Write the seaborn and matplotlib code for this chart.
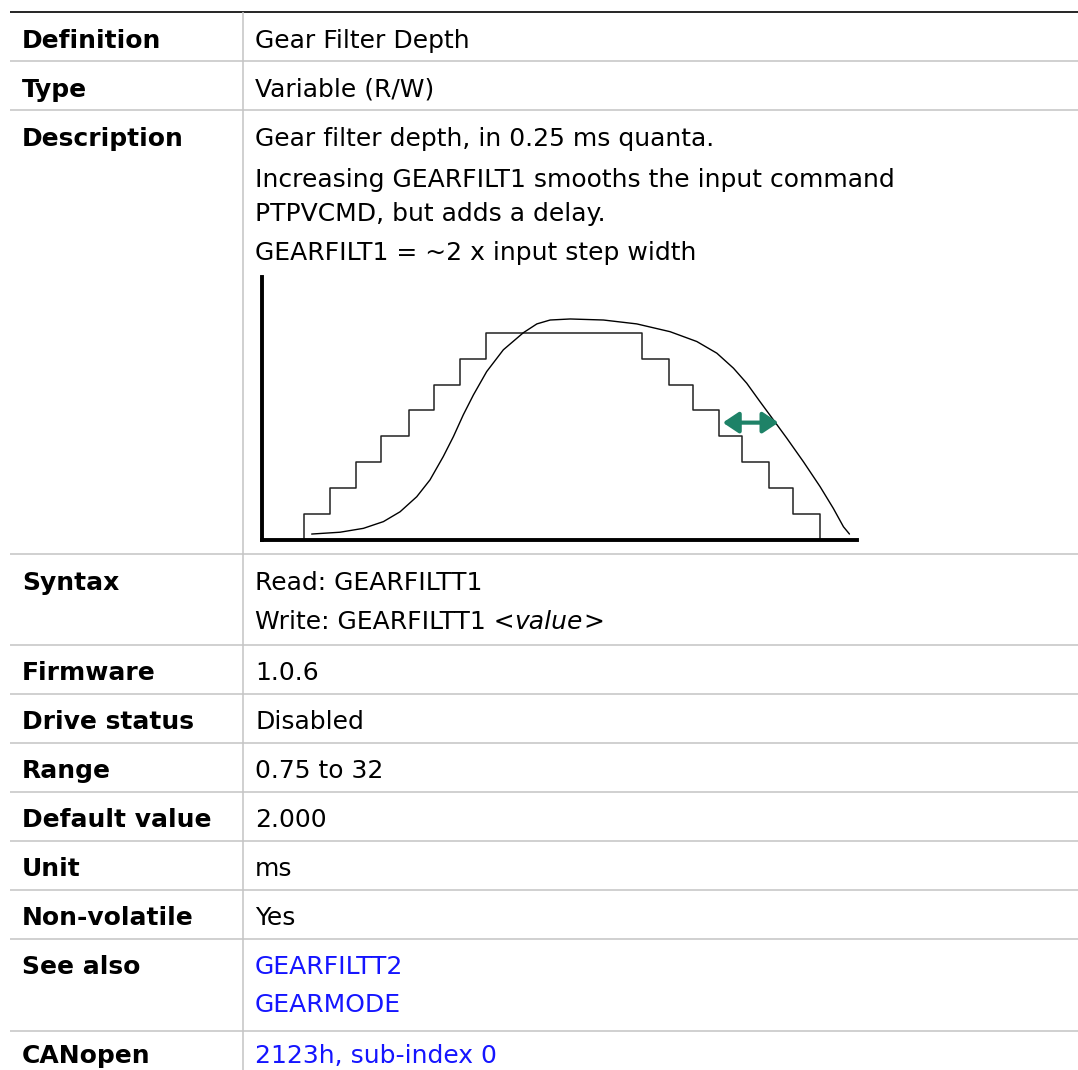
import matplotlib
matplotlib.use("Agg")
import matplotlib.pyplot as plt
import seaborn as sns

# ---------------- data ----------------
row_labels = ["Definition", "Type", "Description", "Syntax", "Firmware",
              "Drive status", "Range", "Default value", "Unit",
              "Non-volatile", "See also", "CANopen"]
definition_text = ["Gear Filter Depth"]
type_text = ["Variable (R/W)"]
description_text = ["Gear filter depth, in 0.25 ms quanta.",
                    "Increasing GEARFILT1 smooths the input command",
                    "PTPVCMD, but adds a delay.",
                    "GEARFILT1 = ~2 x input step width"]
syntax_read = "Read: GEARFILTT1"
syntax_write = ["Write: GEARFILTT1 <", "value", ">"]
firmware_text = ["1.0.6"]
drive_status_text = ["Disabled"]
range_text = ["0.75 to 32"]
default_text = ["2.000"]
unit_text = ["ms"]
nonvolatile_text = ["Yes"]
see_also_links = ["GEARFILTT2", "GEARMODE"]
canopen_links = ["2123h, sub-index 0"]

# chart: stepped input command (time in step units, level in steps)
step_t = [1.62, 1.62, 2.62, 3.60, 4.58, 5.65, 6.63, 7.62, 8.60,
          14.63, 15.65, 16.57, 17.58, 18.47, 19.51, 20.41, 21.46]
step_level = [0, 1, 2, 3, 4, 5, 6, 7, 8,
              7, 6, 5, 4, 3, 2, 1, 0]
# filtered (smoothed) output
curve_t = [1.91, 3.00, 3.90, 4.67, 5.31, 5.95, 6.46, 6.97, 7.36, 7.74, 8.13,
           8.64, 9.28, 10.05, 10.57, 11.08, 11.85, 13.13, 14.41, 15.69,
           16.72, 17.49, 18.13, 18.64, 19.15, 19.67, 20.18, 20.82, 21.46,
           21.97, 22.36, 22.59]
curve_level = [0.23, 0.30, 0.45, 0.71, 1.09, 1.67, 2.32, 3.22, 3.99, 4.83, 5.60,
               6.50, 7.34, 8.00, 8.34, 8.49, 8.53, 8.49, 8.34, 8.04,
               7.66, 7.21, 6.63, 6.05, 5.34, 4.63, 3.93, 3.02, 2.06,
               1.22, 0.51, 0.23]
# delay marker
arrow_t = [17.72, 19.86]
arrow_level = 4.53

# ---------------- style ----------------
sns.set_theme(style="white")
plt.rcParams["font.family"] = ["DejaVu Sans"]

W, H = 1078, 1070
fig = plt.figure(figsize=(W / 100, H / 100), dpi=100)
fig.patch.set_facecolor("white")

# table layer in pixel coordinates
tab = fig.add_axes([0, 0, 1, 1])
tab.set_xlim(0, W)
tab.set_ylim(H, 0)
tab.axis("off")

grid_color = "#c4c4c4"
row_lines = [61, 110, 554, 645, 694, 743, 792, 841, 890, 939, 1031]
tab.plot([10, W], [12, 12], color="black", lw=1.2, solid_capstyle="butt")
for yl in row_lines:
    tab.plot([10, W], [yl, yl], color=grid_color, lw=1.1, solid_capstyle="butt")
tab.plot([242.5, 242.5], [12, H], color=grid_color, lw=1.1, solid_capstyle="butt")

FS = 18
label_x, value_x = 22, 255
label_base = [48, 97, 146, 590, 680, 729, 778, 827, 876, 925, 974, 1063]
for lab, yb in zip(row_labels, label_base):
    tab.text(label_x, yb, lab, fontsize=FS, fontweight="bold", color="black",
             va="baseline", ha="left")

def put(lines, baselines, color="black"):
    for s, yb in zip(lines, baselines):
        tab.text(value_x, yb, s, fontsize=FS, color=color, va="baseline", ha="left")

put(definition_text, [48])
put(type_text, [97])
put(description_text, [146, 187, 221, 260])
put([syntax_read], [590])
t1 = tab.text(value_x, 629, syntax_write[0], fontsize=FS, color="black",
              va="baseline", ha="left")
t2 = tab.annotate(syntax_write[1], xy=(1, 0), xycoords=t1, fontsize=FS,
                  fontstyle="italic", color="black", va="bottom", ha="left")
t3 = tab.annotate(syntax_write[2], xy=(1, 0), xycoords=t2, fontsize=FS,
                  color="black", va="bottom", ha="left")
put(firmware_text, [680])
put(drive_status_text, [729])
put(range_text, [778])
put(default_text, [827])
put(unit_text, [876])
put(nonvolatile_text, [925])
put(see_also_links, [974, 1012], color="#1515ff")
put(canopen_links, [1063], color="#1515ff")

# chart layer
ax = fig.add_axes([262 / W, (H - 540) / H, 595 / W, 263 / H])
ax.set_facecolor("none")
ax.set_xlim(0, 22.88)
ax.set_ylim(0, 10.15)
sns.lineplot(x=step_t, y=step_level, estimator=None, sort=False, ax=ax,
             color="#222222", lw=1.1, drawstyle="steps-post", clip_on=False)
sns.lineplot(x=curve_t, y=curve_level, estimator=None, sort=False, ax=ax,
             color="black", lw=1.0, clip_on=False)
ax.annotate("", xy=(arrow_t[1], arrow_level), xytext=(arrow_t[0], arrow_level),
            arrowprops=dict(arrowstyle="<|-|>,head_length=0.45,head_width=0.3",
                            color="#1e8267", lw=3.0, mutation_scale=21,
                            shrinkA=0, shrinkB=0))
for side in ["top", "right"]:
    ax.spines[side].set_visible(False)
for side in ["left", "bottom"]:
    ax.spines[side].set_visible(True)
    ax.spines[side].set_color("black")
    ax.spines[side].set_linewidth(2.8)
ax.set_xticks([])
ax.set_yticks([])
ax.set_xlabel("")
ax.set_ylabel("")

fig.savefig("out.png", dpi=100, facecolor="white")
